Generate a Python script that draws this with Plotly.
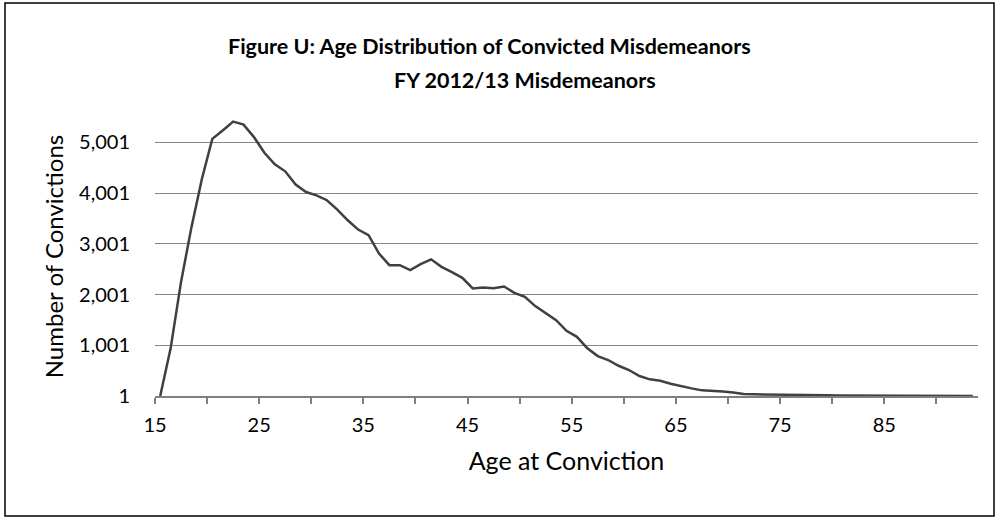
import plotly.graph_objects as go

ages = list(range(15, 94))
convictions = [
    1, 940, 2250, 3330, 4280, 5070, 5235, 5410, 5350, 5105,
    4797, 4567, 4430, 4168, 4022, 3957, 3860, 3676, 3465, 3282,
    3170, 2810, 2580, 2580, 2481, 2600, 2695, 2547, 2442, 2330,
    2121, 2140, 2127, 2160, 2035, 1956, 1773, 1640, 1497, 1286,
    1168, 940, 788, 710, 597, 513, 395, 329, 302, 243,
    191, 151, 112, 105, 90, 70, 40, 35, 30, 28,
    30, 25, 20, 18, 15, 12, 10, 8, 6, 8,
    5, 4, 3, 3, 2, 2, 1, 1, 1,
]
y_tick_vals = [1, 1001, 2001, 3001, 4001, 5001]
y_tick_text = ["1", "1,001", "2,001", "3,001", "4,001", "5,001"]
x_label_ages = [15, 25, 35, 45, 55, 65, 75, 85]

title_line1 = "Figure U: Age Distribution of Convicted Misdemeanors"
title_line2 = "FY 2012/13 Misdemeanors"

FONT = "Lato"

# tick marks every 5 categories on category boundaries; labels every 10
x_tick_vals = [14.5 + 5 * k for k in range(16)]
x_tick_text = [str(int(v + 0.5)) if int(v + 0.5) in x_label_ages else "" for v in x_tick_vals]

fig = go.Figure()
fig.add_trace(go.Scatter(
    x=ages, y=convictions, mode="lines",
    line=dict(color="#404040", width=2.5),
    hoverinfo="x+y", showlegend=False,
))

W, H = 998, 522
ml, mr, mt, mb = 155, 20, 117, 126
pw, ph = W - ml - mr, H - mt - mb

def px_x(p):
    return (p - ml) / pw

def px_y(p):
    return (H - mb - p) / ph

fig.update_layout(
    width=W, height=H,
    margin=dict(l=ml, r=mr, t=mt, b=mb, pad=0),
    paper_bgcolor="white", plot_bgcolor="white",
    font=dict(family=FONT, color="#000000", size=20),
    xaxis=dict(
        range=[14.5, 93.5], tickmode="array",
        tickvals=x_tick_vals, ticktext=x_tick_text,
        ticks="outside", ticklen=6, tickwidth=1.5, tickcolor="#7f7f7f",
        showline=True, linecolor="#7f7f7f", linewidth=1.5,
        showgrid=False, zeroline=False,
        tickfont=dict(family=FONT, size=20, color="#000000"),
        ticklabelstandoff=4,
        title=dict(text="Age at Conviction", standoff=18,
                   font=dict(family=FONT, size=25, color="#000000")),
    ),
    yaxis=dict(
        range=[1, 5501], tickmode="array",
        tickvals=y_tick_vals, ticktext=y_tick_text,
        ticks="", showline=False,
        showgrid=True, gridcolor="#868686", gridwidth=1,
        zeroline=False,
        tickfont=dict(family=FONT, size=20, color="#000000"),
        ticklabelstandoff=24,
        title=dict(text="Number of Convictions", standoff=8,
                   font=dict(family=FONT, size=24, color="#000000")),
    ),
    annotations=[
        dict(text="<b>" + title_line1 + "</b>", xref="paper", yref="paper",
             x=px_x(489), y=px_y(46), xanchor="center", yanchor="middle",
             showarrow=False, font=dict(family=FONT, size=21.5, color="#000000")),
        dict(text="<b>" + title_line2 + "</b>", xref="paper", yref="paper",
             x=px_x(525), y=px_y(80), xanchor="center", yanchor="middle",
             showarrow=False, font=dict(family=FONT, size=21.5, color="#000000")),
    ],
    shapes=[
        dict(type="rect", xref="paper", yref="paper",
             x0=px_x(5), x1=px_x(994), y0=px_y(516), y1=px_y(3),
             line=dict(color="#000000", width=1.5), fillcolor="rgba(0,0,0,0)",
             layer="above"),
    ],
)

fig.write_html(
    "out.html",
    config={"displayModeBar": False},
    post_script="document.body.style.margin='0';document.body.style.overflow='hidden';",
)
